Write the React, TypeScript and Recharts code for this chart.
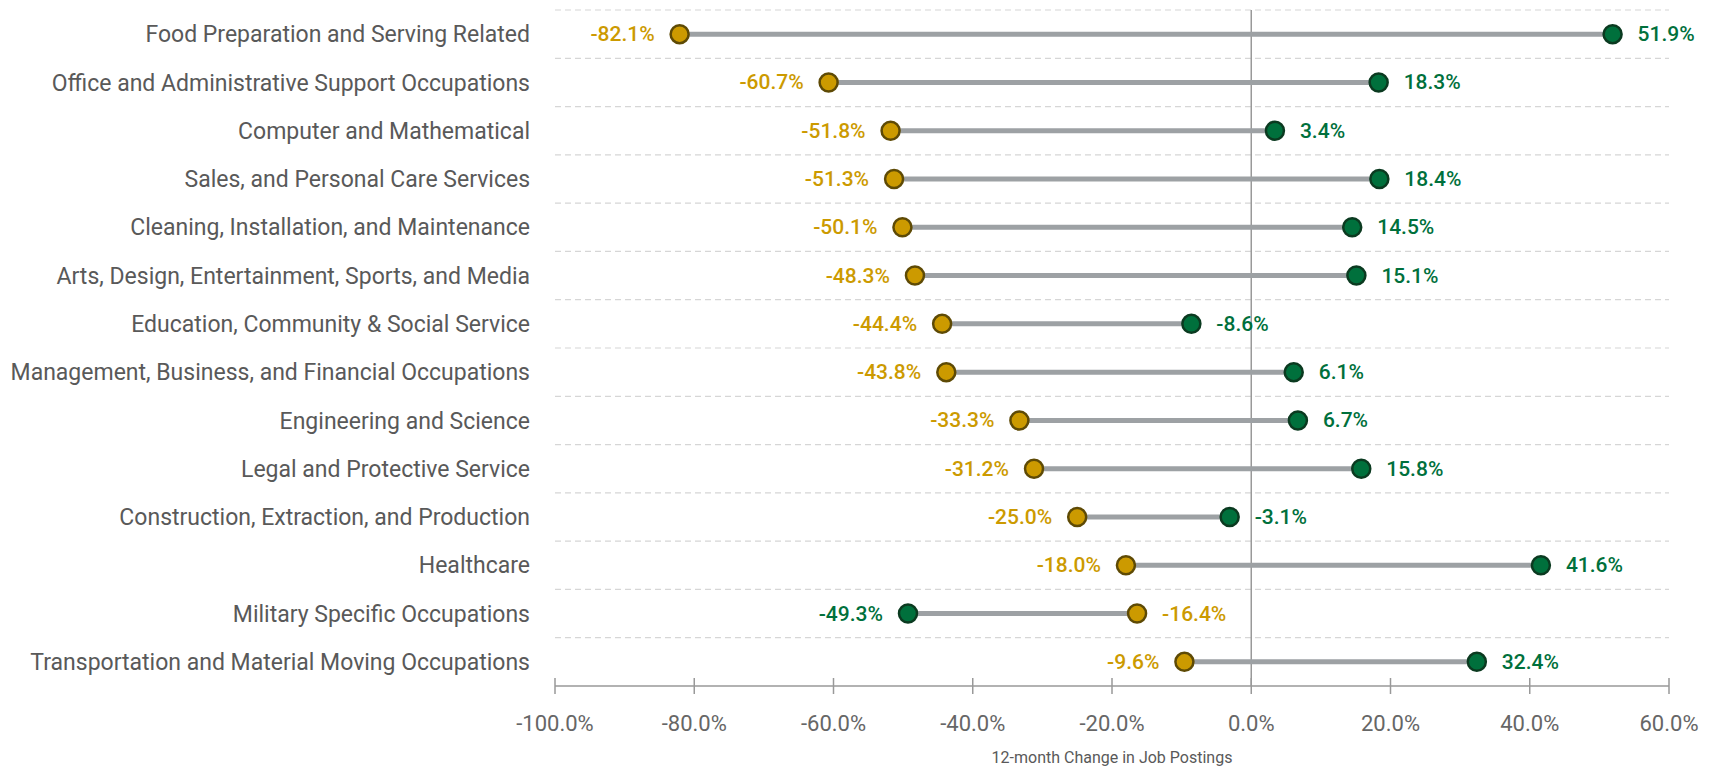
import React from 'react'
import { ScatterChart, Scatter, XAxis, YAxis, ReferenceLine } from 'recharts'

document.body.style.margin = '0'

const categories = [
  'Food Preparation and Serving Related',
  'Office and Administrative Support Occupations',
  'Computer and Mathematical',
  'Sales, and Personal Care Services',
  'Cleaning, Installation, and Maintenance',
  'Arts, Design, Entertainment, Sports, and Media',
  'Education, Community & Social Service',
  'Management, Business, and Financial Occupations',
  'Engineering and Science',
  'Legal and Protective Service',
  'Construction, Extraction, and Production',
  'Healthcare',
  'Military Specific Occupations',
  'Transportation and Material Moving Occupations',
]

const goldValues = [-82.1, -60.7, -51.8, -51.3, -50.1, -48.3, -44.4, -43.8, -33.3, -31.2, -25.0, -18.0, -16.4, -9.6]
const greenValues = [51.9, 18.3, 3.4, 18.4, 14.5, 15.1, -8.6, 6.1, 6.7, 15.8, -3.1, 41.6, -49.3, 32.4]

const xTicks = [-100, -80, -60, -40, -20, 0, 20, 40, 60]

const FONT = 'Roboto, sans-serif'
const GOLD = '#CC9A00'
const GOLD_EDGE = '#5E4A05'
const GREEN = '#00703C'
const GREEN_EDGE = '#0B3A20'
const BAR = '#9DA1A4'

const goldPoints = categories.map((name, i) => ({ name, x: goldValues[i], y: i, other: greenValues[i] }))
const greenPoints = categories.map((name, i) => ({ name, x: greenValues[i], y: i, other: goldValues[i] }))
const segments = categories.map((name, i) => [
  { x: goldValues[i], y: i },
  { x: greenValues[i], y: i },
])

function makeDot(fill: string, edge: string, textColor: string) {
  return (props: any) => {
    const { cx, cy, payload } = props
    const low = payload.x <= payload.other
    return (
      <g>
        <circle cx={cx} cy={cy} r={9} fill={fill} stroke={edge} strokeWidth={2.5} />
        <text
          x={low ? cx - 25 : cx + 25}
          y={cy}
          textAnchor={low ? 'end' : 'start'}
          dominantBaseline="central"
          fill={textColor}
          fontSize={21}
          fontWeight={500}
          fontFamily={FONT}
        >
          {payload.x.toFixed(1)}%
        </text>
      </g>
    )
  }
}

const XTick = (props: any) => {
  const { x, y, payload } = props
  const axisY = y - 32
  return (
    <g>
      <line x1={x} x2={x} y1={axisY - 8} y2={axisY + 8} stroke="#999" strokeWidth={1.5} />
      <text x={x} y={axisY + 37} textAnchor="middle" dominantBaseline="central" fill="#666" fontSize={22} fontFamily={FONT}>
        {payload.value.toFixed(1)}%
      </text>
    </g>
  )
}

export default function App() {
  return (
    <ScatterChart width={1717} height={767} margin={{ top: 10, right: 48, bottom: 0, left: 0 }}>
      <XAxis
        type="number"
        dataKey="x"
        domain={[-100, 60]}
        ticks={xTicks}
        interval={0}
        height={81}
        tickLine={false}
        tickSize={8}
        tickMargin={24}
        stroke="#999"
        strokeWidth={1.5}
        tick={<XTick />}
        label={{
          value: '12-month Change in Job Postings',
          position: 'insideBottom',
          offset: 4,
          fill: '#595959',
          fontSize: 16,
          fontFamily: FONT,
        }}
      />
      <YAxis
        type="number"
        dataKey="y"
        domain={[-0.5, categories.length - 0.5]}
        ticks={categories.map((_, i) => i)}
        interval={0}
        reversed
        width={555}
        axisLine={false}
        tickLine={false}
        tickSize={0}
        tickMargin={25}
        tickFormatter={(i: number) => categories[i]}
        tick={{ fill: '#595959', fontSize: 23, fontFamily: FONT }}
      />
      {categories.map((_, i) => (
        <ReferenceLine key={'g' + i} y={i - 0.5} stroke="#d6d6d6" strokeDasharray="6 4" strokeWidth={1.2} />
      ))}
      <ReferenceLine x={0} stroke="#999" strokeWidth={1.5} />
      {segments.map((seg, i) => (
        <Scatter
          key={'s' + i}
          data={seg}
          line={{ stroke: BAR, strokeWidth: 5 }}
          shape={() => <g />}
          isAnimationActive={false}
        />
      ))}
      <Scatter data={goldPoints} shape={makeDot(GOLD, GOLD_EDGE, GOLD)} isAnimationActive={false} />
      <Scatter data={greenPoints} shape={makeDot(GREEN, GREEN_EDGE, GREEN)} isAnimationActive={false} />
    </ScatterChart>
  )
}
